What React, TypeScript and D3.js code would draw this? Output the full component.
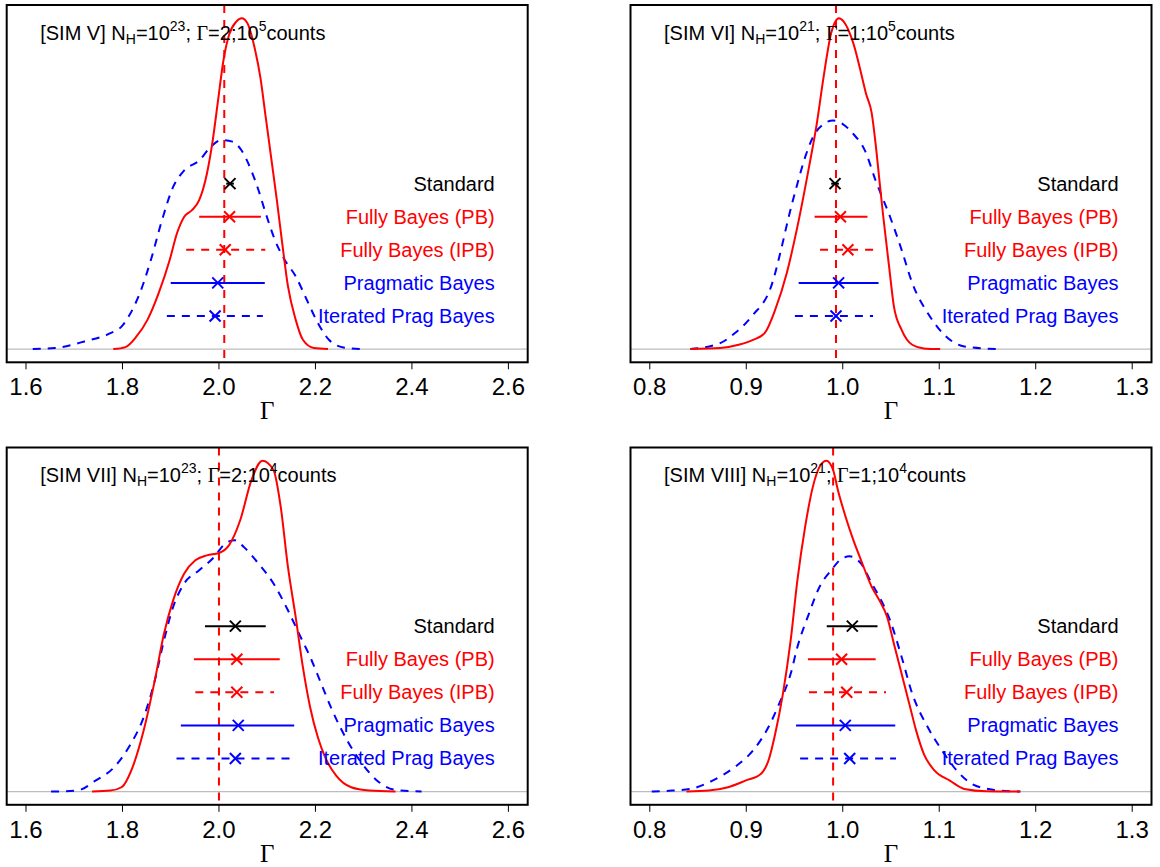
import React from "react";
import * as d3 from "d3";

// ---------- data ----------
const methods = ["Standard", "Fully Bayes (PB)", "Fully Bayes (IPB)", "Pragmatic Bayes", "Iterated Prag Bayes"];
const rowLevels = [0.5, 0.4, 0.3, 0.2, 0.1];

const ticksHighGamma = [1.6, 1.8, 2.0, 2.2, 2.4, 2.6];
const ticksLowGamma = [0.8, 0.9, 1.0, 1.1, 1.2, 1.3];

const simNames = ["SIM V", "SIM VI", "SIM VII", "SIM VIII"];
const simNHExp = ["23", "21", "23", "21"];
const simGammaTrueLabel = ["2", "1", "2", "1"];
const simCountsExp = ["5", "5", "4", "4"];

const simVEstimate = [2.023, 2.022, 2.013, 1.9975, 1.992];
const simVLower = [2.015, 1.959, 1.932, 1.9, 1.892];
const simVUpper = [2.031, 2.087, 2.096, 2.095, 2.091];
const simVLine = 2.011;

const simVIEstimate = [0.992, 0.9976, 1.0053, 0.9957, 0.993];
const simVILower = [0.988, 0.9708, 0.9765, 0.9543, 0.9504];
const simVIUpper = [0.996, 1.0256, 1.034, 1.0371, 1.0314];
const simVILine = 0.993;

const simVIIEstimate = [2.034, 2.037, 2.037, 2.04, 2.034];
const simVIILower = [1.971, 1.948, 1.951, 1.921, 1.912];
const simVIIUpper = [2.097, 2.126, 2.114, 2.156, 2.147];
const simVIILine = 2.0;

const simVIIIEstimate = [1.0099, 0.9988, 1.0041, 1.0026, 1.0072];
const simVIIILower = [0.9834, 0.9639, 0.965, 0.9516, 0.9558];
const simVIIIUpper = [1.036, 1.0341, 1.0448, 1.0544, 1.0552];
const simVIIILine = 0.99;

const simVFullyBayes: [number, number][] = [
  [1.781, 0], [1.806, 0.006], [1.829, 0.038], [1.852, 0.089], [1.875, 0.169], [1.898, 0.27],
  [1.913, 0.35], [1.928, 0.4], [1.944, 0.42], [1.959, 0.45], [1.975, 0.53], [1.986, 0.62],
  [1.998, 0.75], [2.009, 0.87], [2.021, 0.95], [2.036, 0.99], [2.047, 1.0], [2.059, 0.985],
  [2.074, 0.91], [2.086, 0.82], [2.097, 0.7], [2.109, 0.57], [2.12, 0.45], [2.132, 0.31],
  [2.143, 0.19], [2.159, 0.089], [2.174, 0.028], [2.197, 0.003], [2.226, 0],
];
const simVPragBayes: [number, number][] = [
  [1.614, 0], [1.66, 0.003], [1.721, 0.023], [1.775, 0.048], [1.798, 0.068], [1.813, 0.099],
  [1.836, 0.169], [1.859, 0.27], [1.882, 0.39], [1.905, 0.49], [1.928, 0.54], [1.959, 0.57],
  [1.982, 0.61], [2.005, 0.632], [2.028, 0.627], [2.047, 0.6], [2.067, 0.54], [2.082, 0.48],
  [2.097, 0.41], [2.116, 0.33], [2.136, 0.27], [2.159, 0.22], [2.182, 0.149], [2.205, 0.079],
  [2.228, 0.028], [2.258, 0.005], [2.297, 0],
];

const simVIFullyBayes: [number, number][] = [
  [0.842, 0], [0.873, 0.003], [0.892, 0.013], [0.907, 0.028], [0.919, 0.048], [0.93, 0.119],
  [0.942, 0.23], [0.953, 0.37], [0.965, 0.55], [0.973, 0.68], [0.98, 0.82], [0.988, 0.955],
  [0.996, 1.0], [1.001, 0.99], [1.011, 0.924], [1.019, 0.834], [1.024, 0.773], [1.03, 0.713],
  [1.034, 0.622], [1.038, 0.51], [1.042, 0.4], [1.048, 0.25], [1.053, 0.129], [1.061, 0.058],
  [1.072, 0.013], [1.084, 0.002], [1.101, 0],
];
const simVIPragBayes: [number, number][] = [
  [0.842, 0], [0.873, 0.018], [0.888, 0.048], [0.906, 0.1], [0.927, 0.2], [0.936, 0.3],
  [0.944, 0.4], [0.953, 0.5], [0.961, 0.58], [0.969, 0.64], [0.98, 0.68], [0.99, 0.691],
  [1.0, 0.68], [1.011, 0.65], [1.023, 0.6], [1.034, 0.51], [1.049, 0.4], [1.061, 0.3],
  [1.072, 0.2], [1.09, 0.1], [1.107, 0.038], [1.126, 0.008], [1.159, 0],
];

const simVIIFullyBayes: [number, number][] = [
  [1.737, 0], [1.775, 0.003], [1.798, 0.013], [1.821, 0.074], [1.844, 0.185], [1.867, 0.336],
  [1.886, 0.477], [1.905, 0.578], [1.928, 0.659], [1.951, 0.699], [1.975, 0.714], [2.0, 0.721],
  [2.021, 0.745], [2.044, 0.82], [2.067, 0.94], [2.09, 1.0], [2.113, 0.972], [2.128, 0.861],
  [2.143, 0.679], [2.159, 0.528], [2.174, 0.376], [2.189, 0.255], [2.205, 0.164], [2.22, 0.104],
  [2.243, 0.048], [2.274, 0.013], [2.312, 0.003], [2.366, 0],
];
const simVIIPragBayes: [number, number][] = [
  [1.652, 0], [1.706, 0.003], [1.744, 0.033], [1.783, 0.074], [1.813, 0.134], [1.844, 0.225],
  [1.867, 0.336], [1.886, 0.457], [1.905, 0.558], [1.928, 0.629], [1.959, 0.669], [1.99, 0.709],
  [2.013, 0.75], [2.032, 0.76], [2.051, 0.74], [2.082, 0.689], [2.113, 0.629], [2.143, 0.548],
  [2.166, 0.477], [2.189, 0.407], [2.212, 0.326], [2.235, 0.245], [2.266, 0.154], [2.297, 0.084],
  [2.328, 0.033], [2.366, 0.005], [2.42, 0],
];

const simVIIIFullyBayes: [number, number][] = [
  [0.838, 0], [0.861, 0.003], [0.881, 0.013], [0.899, 0.033], [0.915, 0.053], [0.923, 0.094],
  [0.93, 0.175], [0.938, 0.296], [0.946, 0.457], [0.953, 0.639], [0.961, 0.8], [0.969, 0.921],
  [0.977, 0.987], [0.983, 1.0], [0.99, 0.972], [0.995, 0.911], [1.003, 0.83], [1.011, 0.76],
  [1.019, 0.699], [1.03, 0.619], [1.038, 0.578], [1.046, 0.528], [1.053, 0.447], [1.061, 0.356],
  [1.069, 0.265], [1.076, 0.185], [1.084, 0.114], [1.095, 0.064], [1.111, 0.033], [1.126, 0.008],
  [1.149, 0.001], [1.184, 0],
];
const simVIIIPragBayes: [number, number][] = [
  [0.802, 0], [0.823, 0.003], [0.842, 0.008], [0.865, 0.033], [0.888, 0.074], [0.907, 0.124],
  [0.923, 0.195], [0.934, 0.265], [0.946, 0.356], [0.953, 0.437], [0.965, 0.538], [0.976, 0.619],
  [0.988, 0.669], [0.999, 0.704], [1.007, 0.711], [1.019, 0.689], [1.03, 0.629], [1.038, 0.588],
  [1.049, 0.518], [1.061, 0.407], [1.072, 0.296], [1.088, 0.195], [1.103, 0.124], [1.118, 0.064],
  [1.134, 0.023], [1.157, 0.005], [1.184, 0],
];

// ---------- styles ----------
const RED = "#ff0000";
const BLUE = "#0000ff";
const methodColors = ["#000000", RED, RED, BLUE, BLUE];
const methodDashed = [false, false, true, false, true];
const DASH = "8,7";
const SANS = "'Liberation Sans', Arial, Helvetica, sans-serif";
const SERIF = "'Liberation Serif', 'Times New Roman', serif";

type PanelSpec = {
  idx: number;
  left: number;
  top: number;
  ticks: number[];
  fb: [number, number][];
  pb: [number, number][];
  est: number[];
  lo: number[];
  hi: number[];
  vline: number;
};

const PW = 521;
const PH = 357.3;

const panels: PanelSpec[] = [
  { idx: 0, left: 6.7, top: 5, ticks: ticksHighGamma, fb: simVFullyBayes, pb: simVPragBayes, est: simVEstimate, lo: simVLower, hi: simVUpper, vline: simVLine },
  { idx: 1, left: 630.5, top: 5, ticks: ticksLowGamma, fb: simVIFullyBayes, pb: simVIPragBayes, est: simVIEstimate, lo: simVILower, hi: simVIUpper, vline: simVILine },
  { idx: 2, left: 6.7, top: 447.5, ticks: ticksHighGamma, fb: simVIIFullyBayes, pb: simVIIPragBayes, est: simVIIEstimate, lo: simVIILower, hi: simVIIUpper, vline: simVIILine },
  { idx: 3, left: 630.5, top: 447.5, ticks: ticksLowGamma, fb: simVIIIFullyBayes, pb: simVIIIPragBayes, est: simVIIIEstimate, lo: simVIIILower, hi: simVIIIUpper, vline: simVIIILine },
];

function Panel({ p }: { p: PanelSpec }) {
  const t0 = p.ticks[0];
  const t1 = p.ticks[p.ticks.length - 1];
  const ext = (t1 - t0) * 0.04;
  const x = d3.scaleLinear().domain([t0 - ext, t1 + ext]).range([p.left, p.left + PW]);
  const y = d3.scaleLinear().domain([-0.04, 1.04]).range([p.top + PH, p.top]);
  const line = d3
    .line<[number, number]>()
    .x((d) => x(d[0]))
    .y((d) => y(d[1]))
    .curve(d3.curveMonotoneX);
  const fmt = d3.format(".1f");
  const bottom = p.top + PH;
  const right = p.left + PW;
  const i = p.idx;
  return (
    <g>
      <line x1={p.left} x2={right} y1={y(0)} y2={y(0)} stroke="#bdbdbd" strokeWidth={1.2} />
      <path d={line(p.pb) || ""} fill="none" stroke={BLUE} strokeWidth={2} strokeDasharray={DASH} />
      <path d={line(p.fb) || ""} fill="none" stroke={RED} strokeWidth={2} />
      <line x1={x(p.vline)} x2={x(p.vline)} y1={p.top} y2={bottom} stroke={RED} strokeWidth={2} strokeDasharray={DASH} />
      {methods.map((m, k) => {
        const yy = y(rowLevels[k]);
        const cx = x(p.est[k]);
        const c = methodColors[k];
        return (
          <g key={m}>
            <line x1={x(p.lo[k])} x2={x(p.hi[k])} y1={yy} y2={yy} stroke={c} strokeWidth={2}
              strokeDasharray={methodDashed[k] ? DASH : undefined} />
            <line x1={cx - 5.5} x2={cx + 5.5} y1={yy - 5.5} y2={yy + 5.5} stroke={c} strokeWidth={2} />
            <line x1={cx - 5.5} x2={cx + 5.5} y1={yy + 5.5} y2={yy - 5.5} stroke={c} strokeWidth={2} />
            <text x={right - 33} y={yy + 7} textAnchor="end" fontFamily={SANS} fontSize={20} fill={c}>{m}</text>
          </g>
        );
      })}
      <text x={p.left + 33.5} y={p.top + 34.5} fontFamily={SANS} fontSize={20} fill="#000">
        <tspan>{`[${simNames[i]}] N`}</tspan>
        <tspan fontSize={14} dy={4}>H</tspan>
        <tspan dy={-4}>=10</tspan>
        <tspan fontSize={14} dy={-9}>{simNHExp[i]}</tspan>
        <tspan dy={9}>{"; "}</tspan>
        <tspan fontFamily={SERIF}>Γ</tspan>
        <tspan>{`=${simGammaTrueLabel[i]};10`}</tspan>
        <tspan fontSize={14} dy={-9}>{simCountsExp[i]}</tspan>
        <tspan dy={9}>counts</tspan>
      </text>
      <rect x={p.left} y={p.top} width={PW} height={PH} fill="none" stroke="#000" strokeWidth={2} />
      {p.ticks.map((t) => (
        <g key={t}>
          <line x1={x(t)} x2={x(t)} y1={bottom} y2={bottom + 7} stroke="#000" strokeWidth={1} />
          <text x={x(t)} y={bottom + 33} textAnchor="middle" fontFamily={SANS} fontSize={24} fill="#000">{fmt(t)}</text>
        </g>
      ))}
      <text x={p.left + PW / 2} y={bottom + 57} textAnchor="middle" fontFamily={SERIF} fontSize={25} fill="#000">Γ</text>
    </g>
  );
}

export default function App() {
  return (
    <svg width={1160} height={867} style={{ position: "absolute", left: 0, top: 0, background: "#fff" }}>
      <rect x={0} y={0} width={1160} height={867} fill="#fff" />
      {panels.map((p) => (
        <Panel key={p.idx} p={p} />
      ))}
    </svg>
  );
}
